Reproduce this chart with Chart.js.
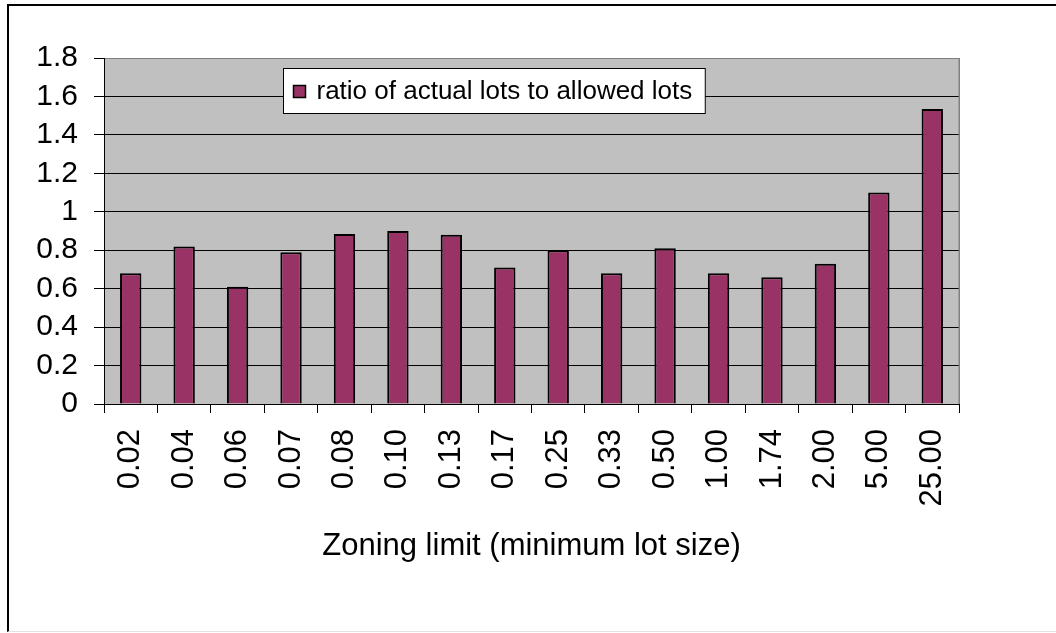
<!DOCTYPE html>
<html>
<head>
<meta charset="utf-8">
<script src="https://cdn.jsdelivr.net/npm/chart.js@4/dist/chart.umd.min.js"></script>
<style>
  html, body { margin: 0; padding: 0; background: #fff; overflow: hidden; }
  #frame {
    position: absolute; left: 7px; top: 4px; width: 1100px; height: 628px;
    box-sizing: border-box;
    border-left: 2px solid #000; border-top: 2px solid #000; border-bottom: 1px solid #e2e2e2;
  }
  #c { position: absolute; left: 0; top: 0; }
</style>
</head>
<body>
<div id="frame"></div>
<canvas id="c" width="1056" height="633"></canvas>
<script>
// Minimum lot size categories (zoning limit)
const categories = ['0.02', '0.04', '0.06', '0.07', '0.08', '0.10', '0.13', '0.17',
                    '0.25', '0.33', '0.50', '1.00', '1.74', '2.00', '5.00', '25.00'];

// Ratio of actual lots to allowed lots, one value per category
const ratios = [0.68, 0.82, 0.61, 0.79, 0.885, 0.90, 0.88, 0.71,
                0.80, 0.68, 0.81, 0.68, 0.66, 0.73, 1.10, 1.535];

// Value axis ticks
const yTickValues = [0, 0.2, 0.4, 0.6, 0.8, 1.0, 1.2, 1.4, 1.6, 1.8];
const yTickLabels = ['0', '0.2', '0.4', '0.6', '0.8', '1', '1.2', '1.4', '1.6', '1.8'];

const seriesLabel = 'ratio of actual lots to allowed lots';
const xAxisTitle = 'Zoning limit (minimum lot size)';

const FONT = '"Liberation Sans", Arial, Helvetica, sans-serif';
const BAR_COLOR = '#993366';
const PLOT_BG = '#c0c0c0';

// Grey plot-area fill behind the grid and bars
const plotBackground = {
  id: 'plotBackground',
  beforeDraw(chart) {
    const { ctx, chartArea: a } = chart;
    ctx.save();
    ctx.fillStyle = PLOT_BG;
    ctx.fillRect(a.left, a.top, a.right - a.left, a.bottom - a.top);
    ctx.restore();
  },
  afterDatasetsDraw(chart) {
    // right-hand plot-area edge
    const { ctx, chartArea: a } = chart;
    ctx.save();
    ctx.strokeStyle = '#808080';
    ctx.lineWidth = 1.5;
    ctx.beginPath();
    ctx.moveTo(a.right + 0.25, a.top);
    ctx.lineTo(a.right + 0.25, a.bottom);
    ctx.stroke();
    ctx.restore();
  }
};

// Boxed legend placed inside the plot area
const insetLegend = {
  id: 'insetLegend',
  afterDraw(chart) {
    const { ctx, chartArea: a } = chart;
    const ds = chart.data.datasets[0];
    ctx.save();
    ctx.font = '26px ' + FONT;
    const textW = ctx.measureText(ds.label).width;
    const x = Math.round(a.left + 179) + 0.5;
    const y = Math.round(a.top + 10) + 0.5;
    const textX = x + 33;
    const w = (textX - x) + textW + 13;
    const h = 45;
    ctx.fillStyle = '#fff';
    ctx.fillRect(x, y, w, h);
    ctx.strokeStyle = '#000';
    ctx.lineWidth = 1;
    ctx.strokeRect(x, y, w, h);
    // legend key
    ctx.fillStyle = ds.backgroundColor;
    ctx.fillRect(x + 10, y + 17, 12, 12);
    ctx.lineWidth = 1.5;
    ctx.strokeRect(x + 10, y + 17, 12, 12);
    // label
    ctx.fillStyle = '#000';
    ctx.textBaseline = 'middle';
    ctx.textAlign = 'left';
    ctx.fillText(ds.label, textX, y + 23);
    ctx.restore();
  }
};

Chart.defaults.color = '#000';
Chart.defaults.font.family = FONT;

new Chart(document.getElementById('c'), {
  type: 'bar',
  data: {
    labels: categories,
    datasets: [{
      label: seriesLabel,
      data: ratios,
      backgroundColor: BAR_COLOR,
      borderColor: '#000',
      borderWidth: 2,
      barPercentage: 0.4,
      categoryPercentage: 1.0
    }]
  },
  options: {
    responsive: false,
    animation: false,
    devicePixelRatio: 1,
    layout: { padding: { left: 0, right: 97, top: 58, bottom: 0 } },
    plugins: {
      legend: { display: false },
      tooltip: { enabled: false },
      title: { display: false }
    },
    scales: {
      x: {
        offset: true,
        grid: {
          offset: true,
          drawOnChartArea: false,
          drawTicks: true,
          tickLength: 9,
          tickColor: '#000',
          tickWidth: 1
        },
        border: { color: '#000', width: 1 },
        ticks: {
          autoSkip: false,
          minRotation: 90,
          maxRotation: 90,
          padding: 16,
          font: { size: 31 }
        },
        title: {
          display: true,
          text: xAxisTitle,
          font: { size: 31 },
          padding: { top: 0, bottom: 68 }
        },
        afterFit(scale) { scale.height = 229; }
      },
      y: {
        min: 0,
        max: 1.8,
        afterBuildTicks(scale) {
          scale.ticks = yTickValues.map(v => ({ value: v }));
        },
        grid: {
          color: ctx => (ctx.tick && ctx.tick.value === 1.8) ? '#808080' : '#000',
          lineWidth: 1,
          drawTicks: true,
          tickLength: 10,
          tickColor: '#000'
        },
        border: { color: '#000', width: 1 },
        ticks: {
          autoSkip: false,
          padding: 16,
          font: { size: 30 },
          callback: (value, index) => yTickLabels[index]
        },
        afterFit(scale) { scale.width = 104; }
      }
    }
  },
  plugins: [plotBackground, insetLegend]
});
</script>
</body>
</html>
